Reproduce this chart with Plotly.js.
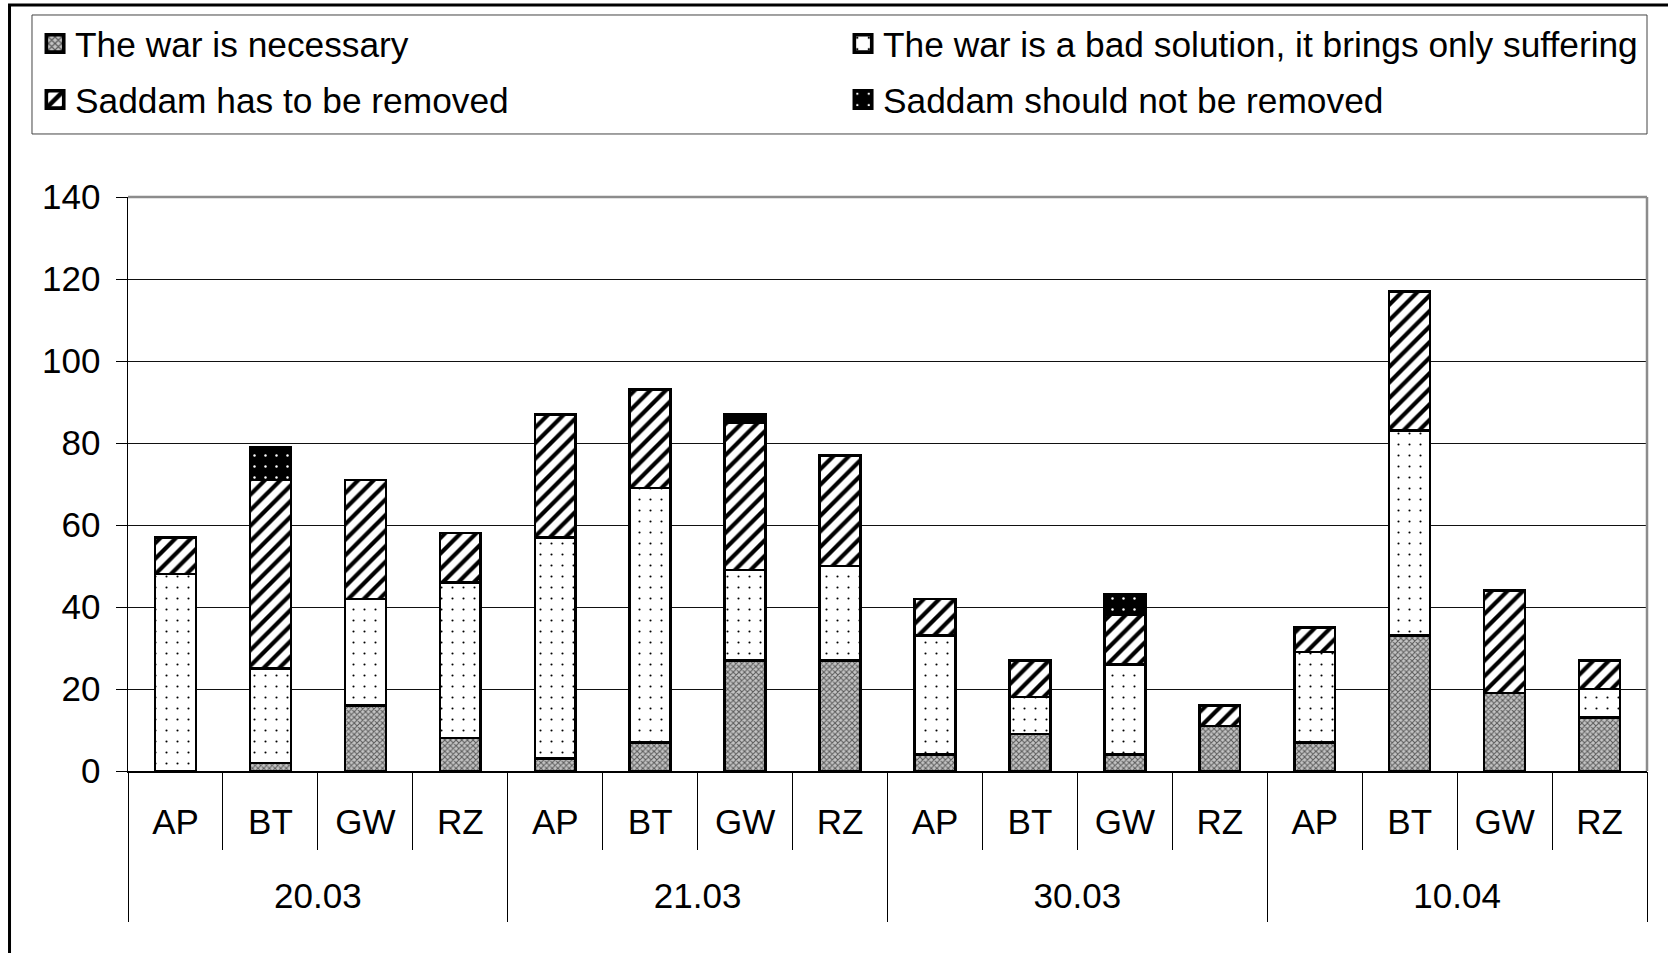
<!DOCTYPE html>
<html><head><meta charset="utf-8">
<script src="https://cdn.plot.ly/plotly-3.0.1.min.js"></script>
<style>html,body{margin:0;padding:0;background:#fff;} #chart{width:1668px;height:953px;}</style>
</head><body><div id="chart"></div>
<script>
// ---- data ----
const dates = ['20.03', '21.03', '30.03', '10.04'];
const papers = ['AP', 'BT', 'GW', 'RZ'];
const seriesNames = [
  'The war is necessary',
  'The war is a bad solution, it brings only suffering',
  'Saddam has to be removed',
  'Saddam should not be removed'
];
const warNecessary     = [0, 2, 16, 8,   3, 7, 27, 27,   4, 9, 4, 11,   7, 33, 19, 13];
const warBad           = [48, 23, 26, 38, 54, 62, 22, 23, 29, 9, 22, 0,   22, 50, 0, 7];
const saddamRemoved    = [9, 46, 29, 12,  30, 24, 36, 27,  9, 9, 12, 5,   6, 34, 25, 7];
const saddamNotRemoved = [0, 8, 0, 0,     0, 0, 2, 0,      0, 0, 5, 0,    0, 0, 0, 0];

// ---- build the two-level x categories ----
const xKeys = [], xPaperLabels = [];
dates.forEach(d => papers.forEach(p => { xKeys.push(d + ' ' + p); xPaperLabels.push(p); }));

const FONT = 'Arial, "Liberation Sans", sans-serif';

function bar(name, y, pattern, legend) {
  return {
    type: 'bar', name: name, x: xKeys, y: y, legend: legend,
    marker: { color: pattern.bgcolor, line: { color: '#000', width: 2.5 }, pattern: pattern },
    hovertemplate: '%{y}<extra>' + name + '</extra>'
  };
}

const traces = [
  bar(seriesNames[0], warNecessary,
      { shape: 'x', size: 4, solidity: 0.45, fgcolor: '#5a5a5a', bgcolor: '#c4c4c4', fillmode: 'replace' }, 'legend'),
  bar(seriesNames[1], warBad,
      { shape: '.', size: 11, solidity: 0.03, fgcolor: '#000', bgcolor: '#fff', fillmode: 'replace' }, 'legend'),
  bar(seriesNames[2], saddamRemoved,
      { shape: '/', size: 11, solidity: 0.38, fgcolor: '#000', bgcolor: '#fff', fillmode: 'replace' }, 'legend2'),
  bar(seriesNames[3], saddamNotRemoved,
      { shape: '.', size: 11, solidity: 0.04, fgcolor: '#fff', bgcolor: '#000', fillmode: 'replace' }, 'legend2'),
  // carrier for the date (group) axis
  { type: 'scatter', mode: 'markers', x: dates, y: dates.map(() => null), xaxis: 'x2', yaxis: 'y',
    showlegend: false, hoverinfo: 'skip' }
];

const legendCommon = {
  orientation: 'h', xref: 'paper', yref: 'paper',
  x: -0.0612, xanchor: 'left', yanchor: 'top',
  entrywidth: 763, entrywidthmode: 'pixels',
  bgcolor: 'rgba(0,0,0,0)', borderwidth: 0,
  font: { family: FONT, size: 35.3, color: '#000' },
  traceorder: 'normal'
};

const tickFont = { family: FONT, size: 35, color: '#000' };

const layout = {
  width: 1668, height: 953,
  margin: { l: 128, r: 21, t: 197, b: 182, pad: 0 },
  paper_bgcolor: '#fff', plot_bgcolor: '#fff',
  font: { family: FONT, size: 35, color: '#000' },
  barmode: 'stack', bargap: 0.57,
  showlegend: true,
  xaxis: {
    type: 'category', range: [-0.5, xKeys.length - 0.5],
    tickmode: 'array', tickvals: xKeys, ticktext: xPaperLabels,
    ticks: 'outside', tickson: 'boundaries', ticklen: 77, tickcolor: '#000', tickwidth: 1,
    ticklabelstandoff: 19,
    showline: true, linecolor: '#000', linewidth: 1.5,
    showgrid: false, zeroline: false, tickfont: tickFont
  },
  xaxis2: {
    type: 'category', overlaying: 'x', anchor: 'y', side: 'bottom',
    range: [-0.5, dates.length - 0.5],
    categoryorder: 'array', categoryarray: dates,
    ticks: 'outside', tickson: 'boundaries', ticklen: 150, tickcolor: '#000', tickwidth: 1,
    ticklabelstandoff: 101,
    showline: false, showgrid: false, zeroline: false, tickfont: tickFont
  },
  yaxis: {
    range: [0, 140], tick0: 0, dtick: 20,
    ticks: 'outside', ticklen: 11, tickcolor: '#000', tickwidth: 1,
    ticklabelstandoff: 8,
    showline: true, linecolor: '#000', linewidth: 1.5,
    showgrid: true, gridcolor: '#111', gridwidth: 1, zeroline: false, tickfont: tickFont
  },
  legend: Object.assign({}, legendCommon, { y: 1.3188 }),
  legend2: Object.assign({}, legendCommon, { y: 1.2213 }),
  shapes: [
    // outer chart frame (cut off at right and bottom in the original)
    { type: 'rect', xref: 'paper', yref: 'paper', x0: -0.078, x1: 1.3, y0: -1, y1: 1.3345,
      line: { color: '#000', width: 3 }, fillcolor: 'rgba(0,0,0,0)', layer: 'above' },
    // legend box
    { type: 'rect', xref: 'paper', yref: 'paper', x0: -0.0632, x1: 1.0, y0: 1.1098, y1: 1.3171,
      line: { color: '#444', width: 1 }, fillcolor: 'rgba(0,0,0,0)', layer: 'above' },
    // plot frame top/right in gray
    { type: 'line', xref: 'paper', yref: 'paper', x0: 0, x1: 1, y0: 1, y1: 1,
      line: { color: '#8c8c8c', width: 2.5 }, layer: 'above' },
    { type: 'line', xref: 'paper', yref: 'paper', x0: 1, x1: 1, y0: 0, y1: 1,
      line: { color: '#8c8c8c', width: 2.5 }, layer: 'above' }
  ]
};

Plotly.newPlot('chart', traces, layout, { displayModeBar: false, staticPlot: true }).then(function (gd) {
  // enlarge the small legend swatches (both legends) to the size used in the original
  gd.querySelectorAll('.legendpoints path').forEach(function (p) {
    const d = p.getAttribute('d') || '';
    if (d.indexOf('M6,6') === 0 && !p.dataset.scaled) {
      const old = p.getAttribute('transform') || '';
      p.setAttribute('transform', old + ' scale(1.45)');
      p.dataset.scaled = '1';
    }
  });
});
</script>
</body></html>
